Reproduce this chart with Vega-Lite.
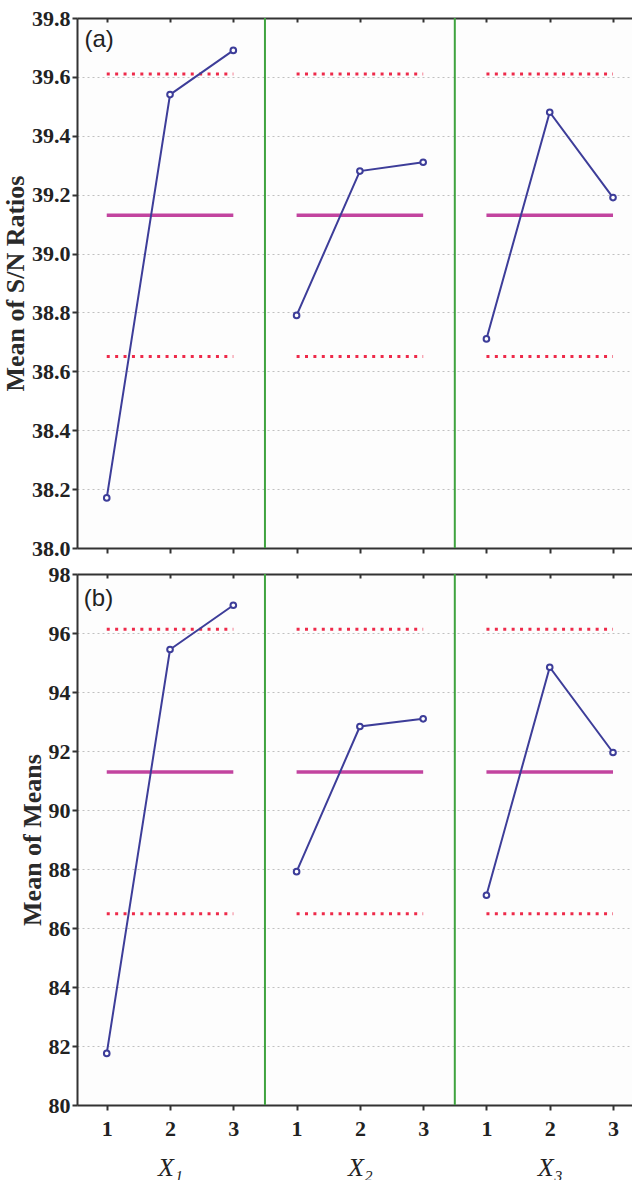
{
  "$schema": "https://vega.github.io/schema/vega-lite/v6.json",
  "padding": {"left": 2, "top": 7, "right": 0, "bottom": 0},
  "background": "white",
  "spacing": 4,
  "config": {
    "view": {"stroke": null, "fill": "#fdfdfd"},
    "axis": {"labelFlush": false}
  },
  "datasets": {
    "sn": [
      {"factor": "X1", "x": 1, "value": 38.17},
      {"factor": "X1", "x": 2, "value": 39.54},
      {"factor": "X1", "x": 3, "value": 39.69},
      {"factor": "X2", "x": 4, "value": 38.79},
      {"factor": "X2", "x": 5, "value": 39.28},
      {"factor": "X2", "x": 6, "value": 39.31},
      {"factor": "X3", "x": 7, "value": 38.71},
      {"factor": "X3", "x": 8, "value": 39.48},
      {"factor": "X3", "x": 9, "value": 39.19}
    ],
    "means": [
      {"factor": "X1", "x": 1, "value": 81.75},
      {"factor": "X1", "x": 2, "value": 95.44},
      {"factor": "X1", "x": 3, "value": 96.94},
      {"factor": "X2", "x": 4, "value": 87.91},
      {"factor": "X2", "x": 5, "value": 92.83},
      {"factor": "X2", "x": 6, "value": 93.09},
      {"factor": "X3", "x": 7, "value": 87.11},
      {"factor": "X3", "x": 8, "value": 94.84},
      {"factor": "X3", "x": 9, "value": 91.95}
    ],
    "sn_ref": [
      {"kind": "limit", "x": 1, "x2": 3, "value": 39.61},
      {"kind": "limit", "x": 4, "x2": 6, "value": 39.61},
      {"kind": "limit", "x": 7, "x2": 9, "value": 39.61},
      {"kind": "limit", "x": 1, "x2": 3, "value": 38.65},
      {"kind": "limit", "x": 4, "x2": 6, "value": 38.65},
      {"kind": "limit", "x": 7, "x2": 9, "value": 38.65},
      {"kind": "mean", "x": 1, "x2": 3, "value": 39.13},
      {"kind": "mean", "x": 4, "x2": 6, "value": 39.13},
      {"kind": "mean", "x": 7, "x2": 9, "value": 39.13}
    ],
    "means_ref": [
      {"kind": "limit", "x": 1, "x2": 3, "value": 96.13},
      {"kind": "limit", "x": 4, "x2": 6, "value": 96.13},
      {"kind": "limit", "x": 7, "x2": 9, "value": 96.13},
      {"kind": "limit", "x": 1, "x2": 3, "value": 86.48},
      {"kind": "limit", "x": 4, "x2": 6, "value": 86.48},
      {"kind": "limit", "x": 7, "x2": 9, "value": 86.48},
      {"kind": "mean", "x": 1, "x2": 3, "value": 91.29},
      {"kind": "mean", "x": 4, "x2": 6, "value": 91.29},
      {"kind": "mean", "x": 7, "x2": 9, "value": 91.29}
    ],
    "seps": [{"x": 3.5}, {"x": 6.5}],
    "titles": [{"x": 2, "name": "X₁"}, {"x": 5, "name": "X₂"}, {"x": 8, "name": "X₃"}]
  },
  "vconcat": [
    {
      "width": 555,
      "height": 530,
      "layer": [
        {
          "data": {"name": "sn_ref"},
          "transform": [{"filter": "datum.kind === 'limit'"}],
          "mark": {"type": "rule", "color": "#ee2a4a", "strokeWidth": 3, "strokeDash": [3, 5.4]},
          "encoding": {
            "x": {
              "field": "x", "type": "quantitative",
              "scale": {"domain": [0.53, 9.3], "nice": false, "zero": false},
              "axis": {
                "orient": "bottom", "values": [1, 2, 3, 4, 5, 6, 7, 8, 9], "labels": false,
                "tickSize": 5, "tickWidth": 2, "tickColor": "#333", "domainColor": "#333", "domainWidth": 2,
                "grid": false, "title": null
              }
            },
            "x2": {"field": "x2"},
            "y": {
              "field": "value", "type": "quantitative",
              "scale": {"domain": [38, 39.8], "nice": false, "zero": false},
              "axis": {
                "values": [38, 38.2, 38.4, 38.6, 38.8, 39, 39.2, 39.4, 39.6, 39.8], "format": ".1f",
                "grid": true, "gridColor": "#c0c0c0", "gridDash": [2, 3], "gridWidth": 1,
                "tickSize": 5, "tickWidth": 2, "tickColor": "#333", "domainColor": "#333", "domainWidth": 2,
                "labelFont": "Liberation Serif", "labelFontWeight": "bold", "labelFontSize": 22, "labelColor": "#222", "labelPadding": 2,
                "title": "Mean of S/N Ratios", "titleFont": "Liberation Serif", "titleFontWeight": "bold", "titleFontSize": 26, "titleColor": "#2a2a2a", "titlePadding": 3
              }
            }
          }
        },
        {
          "data": {"name": "sn_ref"},
          "transform": [{"filter": "datum.kind === 'mean'"}],
          "mark": {"type": "rule", "color": "#c2449f", "strokeWidth": 3.5},
          "encoding": {
            "x": {"field": "x", "type": "quantitative", "scale": {"domain": [0.53, 9.3], "nice": false, "zero": false}, "axis": null},
            "x2": {"field": "x2"},
            "y": {"field": "value", "type": "quantitative"}
          }
        },
        {
          "data": {"name": "sn"},
          "mark": {"type": "line", "color": "#3d3d99", "strokeWidth": 2},
          "encoding": {
            "x": {"field": "x", "type": "quantitative", "scale": {"domain": [0.53, 9.3], "nice": false, "zero": false}, "axis": null},
            "y": {"field": "value", "type": "quantitative"},
            "detail": {"field": "factor"}
          }
        },
        {
          "data": {"name": "sn"},
          "mark": {"type": "point", "shape": "circle", "filled": true, "fill": "white", "stroke": "#3d3d99", "strokeWidth": 2, "size": 32, "opacity": 1},
          "encoding": {
            "x": {"field": "x", "type": "quantitative", "scale": {"domain": [0.53, 9.3], "nice": false, "zero": false}, "axis": null},
            "y": {"field": "value", "type": "quantitative"}
          }
        },
        {
          "data": {"values": [{"label": "(a)"}]},
          "mark": {"type": "text", "font": "Liberation Sans", "fontSize": 24, "color": "#222", "align": "center", "baseline": "middle"},
          "encoding": {
            "x": {"datum": 0.88, "type": "quantitative", "scale": {"domain": [0.53, 9.3], "nice": false, "zero": false}, "axis": null},
            "y": {"datum": 39.724, "type": "quantitative"},
            "text": {"field": "label"}
          }
        },
        {
          "data": {"name": "seps"},
          "mark": {"type": "rule", "color": "#3fa33f", "strokeWidth": 2},
          "encoding": {
            "x": {
              "field": "x", "type": "quantitative",
              "scale": {"domain": [0.53, 9.3], "nice": false, "zero": false},
              "axis": {
                "orient": "top", "values": [1, 2, 3, 4, 5, 6, 7, 8, 9], "labels": false,
                "tickSize": -4, "tickWidth": 2, "tickColor": "#333", "domainColor": "#333", "domainWidth": 2,
                "grid": false, "title": null
              }
            },
            "y": {"datum": 38, "type": "quantitative"},
            "y2": {"datum": 39.8}
          }
        }
      ],
      "resolve": {"scale": {"x": "independent"}, "axis": {"x": "independent"}}
    },
    {
      "width": 555,
      "height": 531,
      "layer": [
        {
          "data": {"name": "means_ref"},
          "transform": [{"filter": "datum.kind === 'limit'"}],
          "mark": {"type": "rule", "color": "#ee2a4a", "strokeWidth": 3, "strokeDash": [3, 5.4]},
          "encoding": {
            "x": {
              "field": "x", "type": "quantitative",
              "scale": {"domain": [0.53, 9.3], "nice": false, "zero": false},
              "axis": {
                "orient": "bottom", "values": [1, 2, 3, 4, 5, 6, 7, 8, 9],
                "labelExpr": "'' + (((datum.value - 1) % 3) + 1)",
                "labelFont": "Liberation Serif", "labelFontWeight": "bold", "labelFontSize": 22, "labelColor": "#222", "labelPadding": 8,
                "tickSize": 5, "tickWidth": 2, "tickColor": "#333", "domainColor": "#333", "domainWidth": 2,
                "grid": false, "title": null
              }
            },
            "x2": {"field": "x2"},
            "y": {
              "field": "value", "type": "quantitative",
              "scale": {"domain": [80, 98], "nice": false, "zero": false},
              "axis": {
                "values": [80, 82, 84, 86, 88, 90, 92, 94, 96, 98],
                "grid": true, "gridColor": "#c0c0c0", "gridDash": [2, 3], "gridWidth": 1,
                "tickSize": 5, "tickWidth": 2, "tickColor": "#333", "domainColor": "#333", "domainWidth": 2,
                "labelFont": "Liberation Serif", "labelFontWeight": "bold", "labelFontSize": 22, "labelColor": "#222", "labelPadding": 2,
                "title": "Mean of Means", "titleFont": "Liberation Serif", "titleFontWeight": "bold", "titleFontSize": 26, "titleColor": "#2a2a2a", "titlePadding": 3
              }
            }
          }
        },
        {
          "data": {"name": "means_ref"},
          "transform": [{"filter": "datum.kind === 'mean'"}],
          "mark": {"type": "rule", "color": "#c2449f", "strokeWidth": 3.5},
          "encoding": {
            "x": {"field": "x", "type": "quantitative", "scale": {"domain": [0.53, 9.3], "nice": false, "zero": false}, "axis": null},
            "x2": {"field": "x2"},
            "y": {"field": "value", "type": "quantitative"}
          }
        },
        {
          "data": {"name": "means"},
          "mark": {"type": "line", "color": "#3d3d99", "strokeWidth": 2},
          "encoding": {
            "x": {"field": "x", "type": "quantitative", "scale": {"domain": [0.53, 9.3], "nice": false, "zero": false}, "axis": null},
            "y": {"field": "value", "type": "quantitative"},
            "detail": {"field": "factor"}
          }
        },
        {
          "data": {"name": "means"},
          "mark": {"type": "point", "shape": "circle", "filled": true, "fill": "white", "stroke": "#3d3d99", "strokeWidth": 2, "size": 32, "opacity": 1},
          "encoding": {
            "x": {"field": "x", "type": "quantitative", "scale": {"domain": [0.53, 9.3], "nice": false, "zero": false}, "axis": null},
            "y": {"field": "value", "type": "quantitative"}
          }
        },
        {
          "data": {"values": [{"label": "(b)"}]},
          "mark": {"type": "text", "font": "Liberation Sans", "fontSize": 24, "color": "#222", "align": "center", "baseline": "middle"},
          "encoding": {
            "x": {"datum": 0.87, "type": "quantitative", "scale": {"domain": [0.53, 9.3], "nice": false, "zero": false}, "axis": null},
            "y": {"datum": 97.15, "type": "quantitative"},
            "text": {"field": "label"}
          }
        },
        {
          "data": {"name": "seps"},
          "mark": {"type": "rule", "color": "#3fa33f", "strokeWidth": 2},
          "encoding": {
            "x": {
              "field": "x", "type": "quantitative",
              "scale": {"domain": [0.53, 9.3], "nice": false, "zero": false},
              "axis": {
                "orient": "top", "values": [1, 2, 3, 4, 5, 6, 7, 8, 9], "labels": false,
                "tickSize": -4, "tickWidth": 2, "tickColor": "#333", "domainColor": "#333", "domainWidth": 2,
                "grid": false, "title": null
              }
            },
            "y": {"datum": 80, "type": "quantitative"},
            "y2": {"datum": 98}
          }
        },
        {
          "data": {"name": "titles"},
          "mark": {"type": "point", "opacity": 0},
          "encoding": {
            "x": {
              "field": "x", "type": "quantitative",
              "scale": {"domain": [0.53, 9.3], "nice": false, "zero": false},
              "axis": {
                "orient": "bottom", "values": [2, 5, 8],
                "labelExpr": "datum.value == 2 ? 'X₁' : datum.value == 5 ? 'X₂' : 'X₃'",
                "labelFont": "Liberation Serif", "labelFontStyle": "italic", "labelFontSize": 26, "labelColor": "#222",
                "labelPadding": 49, "ticks": false, "domain": false, "grid": false, "title": null
              }
            },
            "y": {"datum": 90, "type": "quantitative"}
          }
        }
      ],
      "resolve": {"scale": {"x": "independent"}, "axis": {"x": "independent"}}
    }
  ]
}
